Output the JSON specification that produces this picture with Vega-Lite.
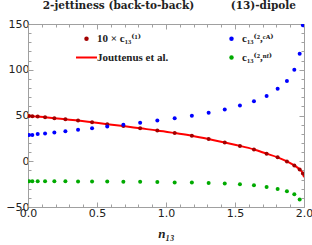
{
  "$schema": "https://vega.github.io/schema/vega-lite/v6.json",
  "width": 276,
  "height": 183,
  "autosize": {"type": "none"},
  "padding": {"left": 28, "top": 24, "right": 8, "bottom": 38},
  "background": "white",
  "title": {
    "text": "2-jettiness (back-to-back)\u00a0\u00a0\u00a0\u00a0\u00a0\u00a0\u00a0\u00a0\u00a0\u00a0(13)-dipole",
    "anchor": "start",
    "font": "DejaVu Serif",
    "fontWeight": "bold",
    "fontSize": 10.5,
    "color": "#222222",
    "baseline": "alphabetic",
    "offset": -1,
    "dx": 37
  },
  "config": {
    "view": {"stroke": null},
    "axis": {
      "grid": false,
      "domainColor": "#a0a0a0",
      "tickColor": "#a0a0a0",
      "domainWidth": 1,
      "tickWidth": 1,
      "labelFont": "DejaVu Sans",
      "labelFontSize": 11,
      "labelColor": "#222222",
      "labelOverlap": false,
      "labelFlush": false
    }
  },
  "datasets": {
    "points": [
      {"n13": 0.0079, "value": 49.5, "series": "c1"},
      {"n13": 0.0314, "value": 49.3, "series": "c1"},
      {"n13": 0.0702, "value": 48.9, "series": "c1"},
      {"n13": 0.1237, "value": 48.1, "series": "c1"},
      {"n13": 0.1910, "value": 47.0, "series": "c1"},
      {"n13": 0.2710, "value": 45.9, "series": "c1"},
      {"n13": 0.3626, "value": 44.5, "series": "c1"},
      {"n13": 0.4642, "value": 42.6, "series": "c1"},
      {"n13": 0.5742, "value": 40.5, "series": "c1"},
      {"n13": 0.6910, "value": 38.4, "series": "c1"},
      {"n13": 0.8126, "value": 36.0, "series": "c1"},
      {"n13": 0.9372, "value": 33.6, "series": "c1"},
      {"n13": 1.0628, "value": 30.8, "series": "c1"},
      {"n13": 1.1874, "value": 27.9, "series": "c1"},
      {"n13": 1.3090, "value": 24.3, "series": "c1"},
      {"n13": 1.4258, "value": 20.4, "series": "c1"},
      {"n13": 1.5358, "value": 16.8, "series": "c1"},
      {"n13": 1.6374, "value": 12.9, "series": "c1"},
      {"n13": 1.7290, "value": 8.3, "series": "c1"},
      {"n13": 1.8090, "value": 4.3, "series": "c1"},
      {"n13": 1.8763, "value": -0.2, "series": "c1"},
      {"n13": 1.9298, "value": -4.6, "series": "c1"},
      {"n13": 1.9686, "value": -9.0, "series": "c1"},
      {"n13": 1.9921, "value": -13.4, "series": "c1"},
      {"n13": 0.0079, "value": 28.6, "series": "cA"},
      {"n13": 0.0314, "value": 28.8, "series": "cA"},
      {"n13": 0.0702, "value": 29.7, "series": "cA"},
      {"n13": 0.1237, "value": 30.4, "series": "cA"},
      {"n13": 0.1910, "value": 31.5, "series": "cA"},
      {"n13": 0.2710, "value": 32.9, "series": "cA"},
      {"n13": 0.3626, "value": 34.4, "series": "cA"},
      {"n13": 0.4642, "value": 36.2, "series": "cA"},
      {"n13": 0.5742, "value": 38.1, "series": "cA"},
      {"n13": 0.6910, "value": 39.8, "series": "cA"},
      {"n13": 0.8126, "value": 42.1, "series": "cA"},
      {"n13": 0.9372, "value": 44.5, "series": "cA"},
      {"n13": 1.0628, "value": 46.9, "series": "cA"},
      {"n13": 1.1874, "value": 49.8, "series": "cA"},
      {"n13": 1.3090, "value": 53.0, "series": "cA"},
      {"n13": 1.4258, "value": 56.6, "series": "cA"},
      {"n13": 1.5358, "value": 60.9, "series": "cA"},
      {"n13": 1.6374, "value": 65.7, "series": "cA"},
      {"n13": 1.7290, "value": 71.4, "series": "cA"},
      {"n13": 1.8090, "value": 79.1, "series": "cA"},
      {"n13": 1.8763, "value": 87.7, "series": "cA"},
      {"n13": 1.9298, "value": 99.9, "series": "cA"},
      {"n13": 1.9686, "value": 117.4, "series": "cA"},
      {"n13": 1.9921, "value": 148.5, "series": "cA"},
      {"n13": 0.0079, "value": -21.8, "series": "nf"},
      {"n13": 0.0314, "value": -21.8, "series": "nf"},
      {"n13": 0.0702, "value": -21.8, "series": "nf"},
      {"n13": 0.1237, "value": -21.8, "series": "nf"},
      {"n13": 0.1910, "value": -21.9, "series": "nf"},
      {"n13": 0.2710, "value": -21.9, "series": "nf"},
      {"n13": 0.3626, "value": -22.0, "series": "nf"},
      {"n13": 0.4642, "value": -22.1, "series": "nf"},
      {"n13": 0.5742, "value": -22.2, "series": "nf"},
      {"n13": 0.6910, "value": -22.4, "series": "nf"},
      {"n13": 0.8126, "value": -22.5, "series": "nf"},
      {"n13": 0.9372, "value": -22.7, "series": "nf"},
      {"n13": 1.0628, "value": -23.1, "series": "nf"},
      {"n13": 1.1874, "value": -23.3, "series": "nf"},
      {"n13": 1.3090, "value": -23.7, "series": "nf"},
      {"n13": 1.4258, "value": -24.3, "series": "nf"},
      {"n13": 1.5358, "value": -25.1, "series": "nf"},
      {"n13": 1.6374, "value": -26.2, "series": "nf"},
      {"n13": 1.7290, "value": -28.1, "series": "nf"},
      {"n13": 1.8090, "value": -30.3, "series": "nf"},
      {"n13": 1.8763, "value": -32.8, "series": "nf"},
      {"n13": 1.9298, "value": -36.1, "series": "nf"},
      {"n13": 1.9686, "value": -41.9, "series": "nf"},
      {"n13": 1.9921, "value": -60.0, "series": "nf"}
    ],
    "curve": [
      {"n13": 0.0, "value": 49.7, "series": "jout"},
      {"n13": 0.0079, "value": 49.5, "series": "jout"},
      {"n13": 0.0314, "value": 49.3, "series": "jout"},
      {"n13": 0.0702, "value": 48.9, "series": "jout"},
      {"n13": 0.1237, "value": 48.1, "series": "jout"},
      {"n13": 0.1910, "value": 47.0, "series": "jout"},
      {"n13": 0.2710, "value": 45.9, "series": "jout"},
      {"n13": 0.3626, "value": 44.5, "series": "jout"},
      {"n13": 0.4642, "value": 42.6, "series": "jout"},
      {"n13": 0.5742, "value": 40.5, "series": "jout"},
      {"n13": 0.6910, "value": 38.4, "series": "jout"},
      {"n13": 0.8126, "value": 36.0, "series": "jout"},
      {"n13": 0.9372, "value": 33.6, "series": "jout"},
      {"n13": 1.0628, "value": 30.8, "series": "jout"},
      {"n13": 1.1874, "value": 27.9, "series": "jout"},
      {"n13": 1.3090, "value": 24.3, "series": "jout"},
      {"n13": 1.4258, "value": 20.4, "series": "jout"},
      {"n13": 1.5358, "value": 16.8, "series": "jout"},
      {"n13": 1.6374, "value": 12.9, "series": "jout"},
      {"n13": 1.7290, "value": 8.3, "series": "jout"},
      {"n13": 1.8090, "value": 4.3, "series": "jout"},
      {"n13": 1.8763, "value": -0.2, "series": "jout"},
      {"n13": 1.9298, "value": -4.6, "series": "jout"},
      {"n13": 1.9686, "value": -9.0, "series": "jout"},
      {"n13": 1.9921, "value": -13.4, "series": "jout"},
      {"n13": 2.0, "value": -17.5, "series": "jout"}
    ]
  },
  "layer": [
    {
      "data": {"name": "curve"},
      "mark": {"type": "line", "strokeWidth": 2, "interpolate": "monotone", "clip": true},
      "encoding": {
        "x": {
          "field": "n13", "type": "quantitative",
          "scale": {"domain": [0, 2], "nice": false, "zero": false},
          "axis": {
            "orient": "bottom",
            "values": [0, 0.1, 0.2, 0.3, 0.4, 0.5, 0.6, 0.7, 0.8, 0.9, 1, 1.1, 1.2, 1.3, 1.4, 1.5, 1.6, 1.7, 1.8, 1.9, 2],
            "labelExpr": "abs(datum.value * 2 - round(datum.value * 2)) < 0.001 ? format(datum.value, '.1f') : ''",
            "tickSize": {"condition": {"test": "abs(datum.value * 2 - round(datum.value * 2)) < 0.001", "value": -5}, "value": -3},
            "labelPadding": 5,
            "title": "n₁₃",
            "titleFont": "Liberation Serif",
            "titleFontStyle": "italic",
            "titleFontWeight": "bold",
            "titleFontSize": 13,
            "titleColor": "#222222",
            "titlePadding": 7
          }
        },
        "y": {
          "field": "value", "type": "quantitative",
          "scale": {"domain": [-50, 150], "nice": false, "zero": false},
          "axis": {
            "orient": "left",
            "values": [-50, -40, -30, -20, -10, 0, 10, 20, 30, 40, 50, 60, 70, 80, 90, 100, 110, 120, 130, 140, 150],
            "labelExpr": "datum.value % 50 === 0 ? datum.label : ''",
            "tickSize": {"condition": {"test": "datum.value % 50 === 0", "value": -5}, "value": -3},
            "labelPadding": 4,
            "title": null
          }
        },
        "color": {
          "field": "series", "type": "nominal",
          "scale": {"domain": ["c1", "jout", "cA", "nf"], "range": ["#a30000", "#ff0000", "#0000ff", "#00aa00"]},
          "legend": {
            "orient": "none",
            "legendX": 53,
            "legendY": 9,
            "columns": 2,
            "title": null,
            "padding": 0,
            "symbolSize": 440,
            "labelOffset": 5,
            "columnPadding": 57,
            "rowPadding": 7,
            "labelFont": "Liberation Serif, DejaVu Serif",
            "labelFontSize": 11,
            "labelFontWeight": "bold",
            "labelColor": "#222222",
            "labelExpr": "datum.value === 'c1' ? '10 × c₁₃⁽¹⁾' : datum.value === 'cA' ? 'c₁₃⁽²,ᶜᴬ⁾' : datum.value === 'nf' ? 'c₁₃⁽²,ⁿᶠ⁾' : 'Jouttenus et al.'",
            "encode": {
              "symbols": {
                "update": {
                  "shape": {"signal": "datum.value === 'jout' ? 'stroke' : 'circle'"},
                  "size": {"signal": "datum.value === 'jout' ? 440 : 20"},
                  "fill": {"signal": "datum.value === 'jout' ? 'transparent' : scale('color', datum.value)"},
                  "stroke": {"signal": "scale('color', datum.value)"},
                  "strokeWidth": {"signal": "datum.value === 'jout' ? 2 : 0"},
                  "opacity": {"value": 1}
                }
              }
            }
          }
        }
      }
    },
    {
      "data": {"name": "points"},
      "mark": {"type": "circle", "size": 16, "opacity": 1, "clip": true},
      "encoding": {
        "x": {
          "field": "n13", "type": "quantitative",
          "axis": {
            "orient": "top",
            "values": [0, 0.1, 0.2, 0.3, 0.4, 0.5, 0.6, 0.7, 0.8, 0.9, 1, 1.1, 1.2, 1.3, 1.4, 1.5, 1.6, 1.7, 1.8, 1.9, 2],
            "labels": false,
            "tickSize": {"condition": {"test": "abs(datum.value * 2 - round(datum.value * 2)) < 0.001", "value": -5}, "value": -3},
            "title": null
          }
        },
        "y": {
          "field": "value", "type": "quantitative",
          "axis": {
            "orient": "right",
            "values": [-50, -40, -30, -20, -10, 0, 10, 20, 30, 40, 50, 60, 70, 80, 90, 100, 110, 120, 130, 140, 150],
            "labels": false,
            "tickSize": {"condition": {"test": "datum.value % 50 === 0", "value": -5}, "value": -3},
            "title": null
          }
        },
        "color": {"field": "series", "type": "nominal"}
      }
    }
  ],
  "resolve": {"axis": {"x": "independent", "y": "independent"}}
}
